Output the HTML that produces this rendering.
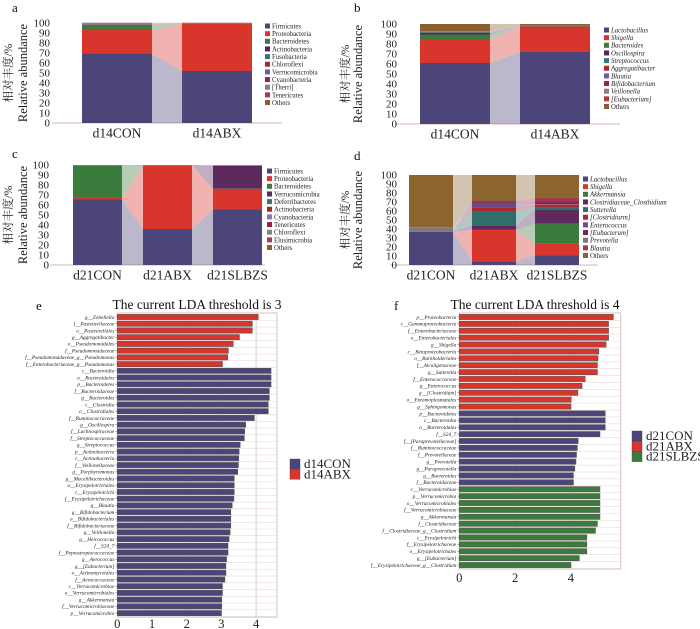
<!DOCTYPE html>
<html><head><meta charset="utf-8">
<style>
html,body{margin:0;padding:0;background:#fff;}
svg{display:block;font-family:"Liberation Serif","Noto Serif CJK SC",serif;}
</style></head>
<body>
<svg id="fig" width="700" height="629" viewBox="0 0 700 629" xmlns="http://www.w3.org/2000/svg">
<g font-size="13" fill="#111">
<text x="12" y="12">a</text><text x="354" y="12">b</text>
<text x="12" y="158">c</text><text x="354" y="160">d</text>
<text x="36" y="310">e</text><text x="394" y="310">f</text>
</g>
</svg>
<script>
// ---- Panel a data ----
const aCategories = ["d14CON","d14ABX"];
const aTaxa = ["Firmicutes","Proteobacteria","Bacteroidetes","Actinobacteria","Fusobacteria","Chloroflexi","Verrucomicrobia","Cyanobacteria","[Therri]","Tenericutes","Others"];
const aColors = ["#4b4579","#d8362c","#3b7c3c","#5b215e","#2f7a73","#a82a2a","#6d5aa0","#9a2050","#8a8282","#b03848","#8b6030"];
const aValues = [[69,24,5,0.3,0.2,0.1,0.2,0.2,1,0.2,0.1],[52,47.5,0.1,0.1,0.1,0.1,0.05,0.05,0.1,0.1,0.1]];
// ---- Panel b data ----
const bCategories = ["d14CON","d14ABX"];
const bTaxa = ["Lactobacillus","Shigella","Bacteroides","Oscillospira","Streptococcus","Aggregatibacter","Blautia","Bifidobacterium","Veillonella","[Eubacterium]","Others"];
const bColors = ["#4b4579","#d8362c","#3b7c3c","#5b215e","#2f7a73","#a82a2a","#6d5aa0","#9a2050","#8a8282","#b03848","#8b6030"];
const bValues = [[61,23.5,5,1.5,0.5,0.3,0.3,0.3,0.3,0.3,7],[72,25,0.2,0.1,0.2,0.5,0.1,0.1,0.1,0.1,1.6]];
// ---- Panel c data ----
const cCategories = ["d21CON","d21ABX","d21SLBZS"];
const cTaxa = ["Firmicutes","Proteobacteria","Bacteroidetes","Verrucomicrobia","Deferribacteres","Actinobacteria","Cyanobacteria","Tenericutes","Chloroflexi","Elusimicrobia","Others"];
const cColors = ["#4b4579","#d8362c","#3b7c3c","#5e2a5e","#2f7a73","#a82a2a","#8a78b0","#9a2050","#8a8282","#b03848","#8b6030"];
const cValues = [[65.5,2,32,0,0,0,0.1,0.1,0.1,0.1,0.1],[36,63.5,0.1,0,0,0.1,0.1,0.05,0.05,0.05,0.05],[55.5,20.5,0.3,23,0,0.1,0.2,0.1,0.1,0.1,0.1]];
// ---- Panel d data ----
const dCategories = ["d21CON","d21ABX","d21SLBZS"];
const dTaxa = ["Lactobacillus","Shigella","Akkermansia","Clostridiaceae_Closthidium","Sutterella","[Clostridiurm]","Enterococcus","[Eubacterum]","Prevotella","Blautia","Others"];
const dColors = ["#4b4579","#d8362c","#3b7c3c","#5e2a5e","#2f6e6a","#a82a2a","#6a4a8a","#8a2050","#807878","#a03848","#8c6430"];
const dValues = [[37,0,0,0,0,0,0,0,5,0,58],[4,35,0,5,16,4,5,2,0,0,29],[11,13,22,16,2,3,0.5,3,0,4,25.5]];
// ---- Panel e data ----
const eLabels = ["g__Zobellella","f__Pasteurellaceae","o__Pasteurellales","g__Aggregatibacter","o__Pseudomonadales","f__Pseudomonadaceae","f__Pseudomonadaceae_g__Pseudomonas","f__Enterobacteriaceae_g__Pseudomonas","c__Bacteroidia","o__Bacteroidales","p__Bacteroidetes","f__Bacteroidaceae","g__Bacteroides","c__Clostridia","o__Clostridiales","f__Ruminococcaceae","g__Oscillospira","f__Lachnospiraceae","f__Streptococcaceae","g__Streptococcus","p__Actinobacteria","c__Actinobacteria","f__Veillonellaceae","g__Porphyromonas","g__Macellibacteroides","o__Erysipelotrichales","c__Erysipelotrichi","f__Erysipelotrichaceae","g__Blautia","g__Bifidobacterium","o__Bifidobacteriales","f__Bifidobacteriaceae","g__Veillonella","g__Helcococcus","f__S24_7","f__Peptostreptococcaceae","g__Aerococcus","g__[Eubacterium]","o__Actinomycetales","f__Aerococcaceae","c__Verrucomicrobiae","o__Verrucomicrobiales","g__Akkermansia","f__Verrucomicrobiaceae","p__Verrucomicrobia"];
const eValues = [4.06,3.89,3.89,3.52,3.34,3.2,3.18,3.03,4.43,4.43,4.43,4.38,4.38,4.35,4.35,3.95,3.7,3.67,3.66,3.54,3.51,3.5,3.49,3.47,3.37,3.37,3.37,3.36,3.31,3.27,3.27,3.27,3.25,3.22,3.19,3.19,3.15,3.13,3.13,3.1,3.03,3.03,3.01,3.01,3.0];
const eGroups = [1,1,1,1,1,1,1,1,0,0,0,0,0,0,0,0,0,0,0,0,0,0,0,0,0,0,0,0,0,0,0,0,0,0,0,0,0,0,0,0,0,0,0,0,0];
const eGroupNames = ["d14CON","d14ABX"];
const eTicks = [0,1,2,3,4];
// ---- Panel f data ----
const fLabels = ["p__Proteobacteria","c__Gammaproteobacteria","f__Enterobacteriaceae","o__Enterobacteriales","g__Shigella","c__Betaproteobacteria","o__Burkholderiales","f__Alcaligenaceae","g__Sutterella","f__Enterococcaceae","g__Enterococcus","g__[Clostridium]","o__Entomoplasmatales","g__Sphingomonas","p__Bacteroidetes","c__Bacteroidia","o__Bacteroidales","f__S24_7","f__[Paraprevotellaceae]","f__Ruminococcaceae","f__Prevotellaceae","g__Prevotella","g__Paraprevotella","g__Bacteroides","f__Bacteroidaceae","c__Verrucomicrobiae","p__Verrucomicrobia","o__Verrucomicrobiales","f__Verrucomicrobiaceae","g__Akkermansia","f__Clostridiaceae","f__Clostridiaceae_g__Clostridium","c__Erysipelotrichi","f__Erysipelotrichaceae","o__Erysipelotrichales","g__[Eubacterium]","f__Erysipelotrichaceae_g__Clostridium"];
const fValues = [5.52,5.35,5.35,5.35,5.26,5.0,4.97,4.95,4.95,4.51,4.4,4.25,4.01,4.0,5.23,5.23,5.23,5.04,4.26,4.23,4.2,4.18,4.14,4.09,4.09,5.04,5.04,5.04,5.04,5.04,4.95,4.88,4.57,4.57,4.57,4.3,4.0];
const fGroups = [1,1,1,1,1,1,1,1,1,1,1,1,1,1,0,0,0,0,0,0,0,0,0,0,0,2,2,2,2,2,2,2,2,2,2,2,2];
const fGroupNames = ["d21CON","d21ABX","d21SLBZS"];
const fTicks = [0,2,4];
const groupColors = ["#4b4579","#d8362c","#3b7c3c"];
const yTicks = [0,10,20,30,40,50,60,70,80,90,100];

const NS="http://www.w3.org/2000/svg";
const svg=document.getElementById('fig');
function mk(tag,attrs,parent,text){const e=document.createElementNS(NS,tag);for(const k in attrs)e.setAttribute(k,attrs[k]);if(text!==undefined)e.textContent=text;(parent||svg).appendChild(e);return e;}

function stacked(cfg,cats,taxa,colors,vals,italic){
  const g=mk('g',{});
  
  
  const yS=v=>cfg.y0-v*cfg.k;
  const xS=i=>cfg.x0+i*(cfg.w+cfg.gap);
  // axis
  const ax=mk('line',{x1:cfg.axL,y1:cfg.y0,x2:cfg.axR,y2:cfg.y0,stroke:'#d9b6b6','stroke-width':1},g);
  
  yTicks.forEach(t=>{const tx=mk('text',{x:cfg.tickR,y:yS(t)+3.5,'font-size':11,'text-anchor':'end',fill:'#222'},g,t);
    });
  const t1=mk('text',{transform:`translate(${cfg.tx2},${cfg.ty}) rotate(-90)`,'font-size':12.5,'text-anchor':'middle',fill:'#222'},g,'Relative abundance');
  
  const t2=mk('text',{transform:`translate(${cfg.tx1},${cfg.ty}) rotate(-90)`,'font-size':11.5,'text-anchor':'middle',fill:'#222'},g,'相对丰度/%');
  
  // connectors
  for(let b=0;b<cats.length-1;b++){let c1=0,c2=0;
    taxa.forEach((tx,i)=>{const v1=vals[b][i],v2=vals[b+1][i];
      const xa=xS(b)+cfg.w,xb=xS(b+1);
      if(v1+v2>0){const p=mk('polygon',{points:`${xa},${yS(c1)} ${xb},${yS(c2)} ${xb},${yS(c2+v2)} ${xa},${yS(c1+v1)}`,fill:colors[i],'fill-opacity':0.38},g);
        }
      c1+=v1;c2+=v2;});}
  cats.forEach((c,b)=>{let cum=0;
    taxa.forEach((tx,i)=>{const v=vals[b][i];if(v>0){const r=mk('rect',{x:xS(b),y:yS(cum+v),width:cfg.w,height:v*cfg.k,fill:colors[i]},g);
      }cum+=v;});
    const l=mk('text',{x:xS(b)+cfg.w/2,y:cfg.y0+14.5,'font-size':13.5,'text-anchor':'middle',fill:'#222'},g,c);
    });
  taxa.forEach((tx,i)=>{const y=cfg.ly+i*7.65;
    const s=mk('rect',{x:cfg.lx,y:y-2.5,width:5,height:5,fill:colors[i]},g);
    
    const t=mk('text',{x:cfg.lx+7,y:y+2.4,'font-size':6.8,fill:'#222','font-style':(italic&&tx!=='Others')?'italic':'normal'},g,tx);
    });
}
stacked({name:'panel-a',x0:82,w:70,gap:30,y0:123,k:1,axL:52,axR:282,tickR:50,tx1:12,tx2:27,ty:73,lx:265,ly:26},aCategories,aTaxa,aColors,aValues,false);
stacked({name:'panel-b',x0:420,w:70,gap:30,y0:124,k:1,axL:395,axR:620,tickR:397,tx1:349,tx2:362,ty:74,lx:604,ly:30},bCategories,bTaxa,bColors,bValues,true);
stacked({name:'panel-c',x0:73,w:49,gap:21,y0:265,k:1,axL:50,axR:265,tickR:49,tx1:12,tx2:27,ty:215,lx:267,ly:171},cCategories,cTaxa,cColors,cValues,false);
stacked({name:'panel-d',x0:409,w:44,gap:19,y0:265,k:0.9,axL:390,axR:598,tickR:397,tx1:349,tx2:362,ty:220,lx:583,ly:179},dCategories,dTaxa,dColors,dValues,true);

function lda(cfg,labels,vals,groups,gnames,ticks){
  const g=mk('g',{});
  
  
  const xS=v=>cfg.x0+v*cfg.k;
  const yS=i=>cfg.top+4+i*cfg.step;
  const bottom=yS(labels.length-1)+4;
  mk('rect',{x:cfg.x0,y:cfg.top,width:cfg.right-cfg.x0,height:bottom-cfg.top,fill:'#fff',stroke:'#d8c0c0','stroke-width':1},g);
  labels.forEach((l,i)=>{mk('line',{x1:cfg.x0,x2:cfg.right,y1:yS(i)+cfg.step/2,y2:yS(i)+cfg.step/2,stroke:'#e6dada','stroke-width':0.6},g);});
  for(let v=0;cfg.x0+v*cfg.k<cfg.right;v+=ticks[1]-ticks[0]){mk('line',{x1:xS(v),x2:xS(v),y1:cfg.top,y2:bottom,stroke:'#dcc8c8','stroke-width':0.8},g);}
  const tt=mk('text',{x:cfg.tcx,y:309,'font-size':13.5,'text-anchor':'middle',fill:'#111'},g,cfg.title);
  
  labels.forEach((l,i)=>{
    const r=mk('rect',{x:cfg.x0,y:yS(i)-2.6,width:vals[i]*cfg.k,height:5.2,fill:groupColors[groups[i]],stroke:'#555','stroke-width':0.6},g);
    
    mk('line',{x1:cfg.x0-2,x2:cfg.x0,y1:yS(i),y2:yS(i),stroke:'#666','stroke-width':0.5},g);
    const t=mk('text',{x:cfg.x0-3,y:yS(i)+1.8,'font-size':5.3,'font-style':'italic','text-anchor':'end',fill:'#222'},g,l);
    });
  ticks.forEach(t=>{const x=mk('text',{x:xS(t),y:bottom+cfg.tickDy,'font-size':12.5,'text-anchor':'middle',fill:'#222'},g,t);
    });
  gnames.forEach((n,i)=>{const y=cfg.ly+i*10.3;
    const s=mk('rect',{x:cfg.lx,y:y,width:10,height:10,fill:groupColors[i],stroke:'#444','stroke-width':0.4},g);
    
    const t=mk('text',{x:cfg.lx+14,y:y+9,'font-size':13,fill:'#222'},g,n);
    });
}
lda({name:'panel-e',x0:117.3,k:34.7,right:277,top:313,step:6.73,title:'The current LDA threshold is 3',tcx:197,tickDy:11,lx:290,ly:459},eLabels,eValues,eGroups,eGroupNames,eTicks);
lda({name:'panel-f',x0:459.3,k:27.9,right:620.7,top:313,step:6.89,title:'The current LDA threshold is 4',tcx:535,tickDy:13,lx:632,ly:431},fLabels,fValues,fGroups,fGroupNames,fTicks);
</script>
</body></html>
